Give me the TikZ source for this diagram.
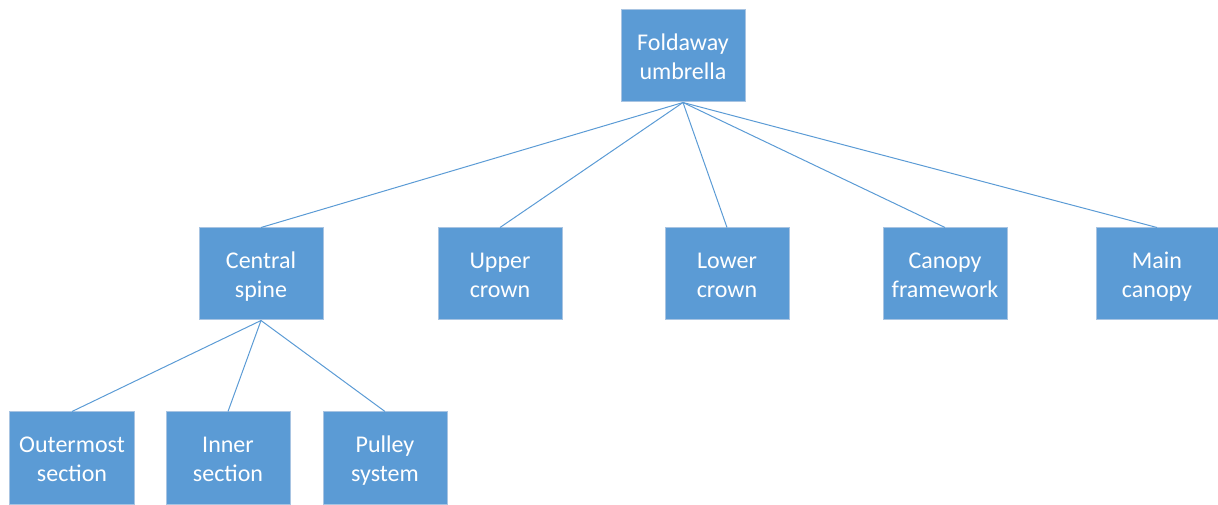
\documentclass[tikz,border=0pt]{standalone}
\usepackage{fontspec}
\setmainfont{Carlito}
\newcommand{\tstr}{\rule{0pt}{26bp}}
\newcommand{\bstr}{\rule[-8.7bp]{0pt}{8.7bp}}
\begin{document}
\begin{tikzpicture}[x=1bp,y=-1bp,
  box/.style={draw=boxedge, line width=1bp, fill=boxfill, text=white, minimum width=124bp, minimum height=92bp, inner sep=0pt, align=center, font=\fontsize{24bp}{29bp}\selectfont},
  link/.style={draw=boxfill, line width=1bp}]
\definecolor{boxfill}{HTML}{5B9BD5}
\definecolor{boxedge}{HTML}{A8C4E2}
\useasboundingbox (0,0) rectangle (1218,505);
\node[box] (root) at (683,56) {\tstr Foldaway\\\bstr umbrella};
\node[box] (spine) at (261,274) {\tstr Central\\\bstr spine};
\node[box] (upper) at (500,274) {\tstr Upper\\\bstr crown};
\node[box] (lower) at (727,274) {\tstr Lower\\\bstr crown};
\node[box] (frame) at (945,274) {\tstr Canopy\\\bstr framework};
\node[box, minimum width=122bp] (main) at (1157,274) {\tstr Main\\\bstr canopy};
\node[box] (outer) at (72,458) {\tstr Outermost\\\bstr section};
\node[box] (inner) at (228,458) {\tstr Inner\\\bstr section};
\node[box] (pulley) at (385,458) {\tstr Pulley\\\bstr system};
\foreach \c in {spine,upper,lower,frame,main} \draw[link] (root.south) -- (\c.north);
\foreach \c in {outer,inner,pulley} \draw[link] (spine.south) -- (\c.north);
\end{tikzpicture}
\end{document}
